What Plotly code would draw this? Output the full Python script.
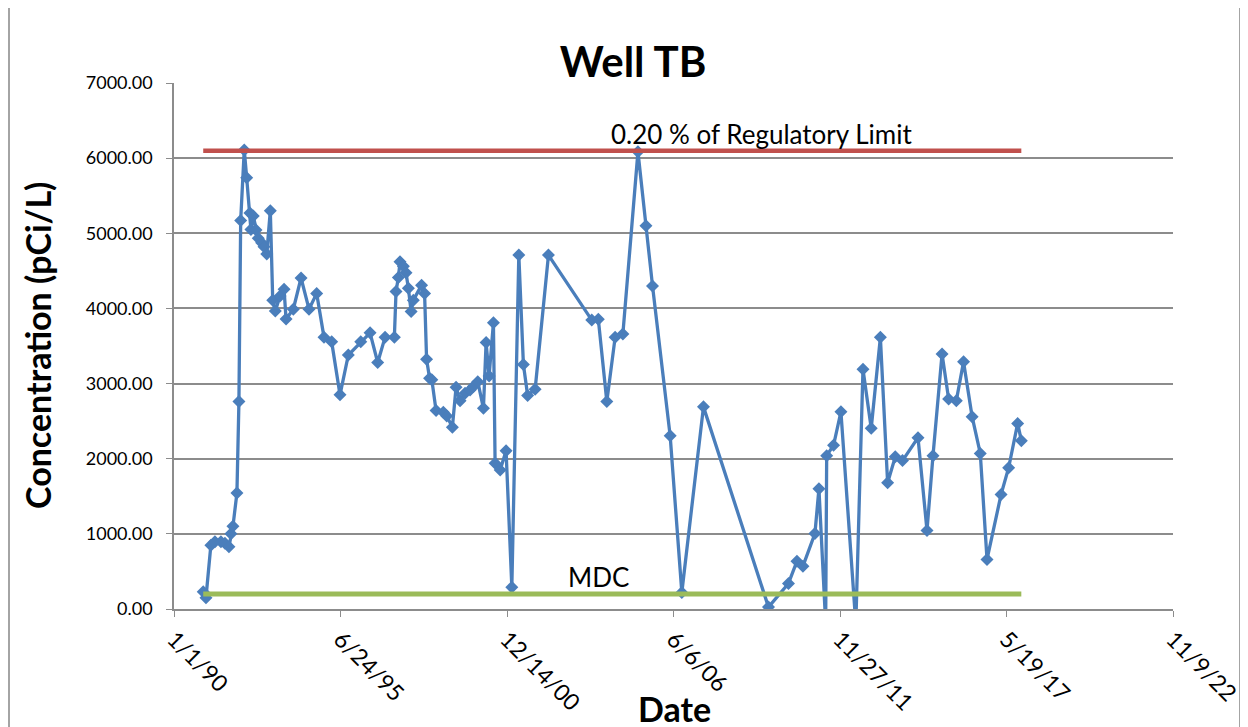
import plotly.graph_objects as go

# Well TB sample results (pCi/L)
sample_dates = [
    "1990-12-18", "1991-01-20", "1991-03-20", "1991-05-08", "1991-07-19", "1991-09-05",
    "1991-10-23", "1991-11-16", "1991-12-10", "1992-01-27", "1992-02-20", "1992-03-12",
    "1992-04-24", "1992-05-23", "1992-07-01", "1992-07-13", "1992-08-10", "1992-09-12",
    "1992-10-09", "1992-11-19", "1992-12-17", "1993-01-19", "1993-03-03", "1993-04-01",
    "1993-05-02", "1993-06-28", "1993-08-15", "1993-09-08", "1993-12-04", "1994-03-07",
    "1994-06-11", "1994-09-11", "1994-12-08", "1995-03-10", "1995-06-18", "1995-09-26",
    "1996-02-22", "1996-06-13", "1996-09-13", "1996-12-10", "1997-04-01", "1997-04-21",
    "1997-05-19", "1997-06-08", "1997-07-18", "1997-08-19", "1997-09-16", "1997-10-19",
    "1997-11-15", "1998-02-22", "1998-03-30", "1998-04-23", "1998-05-29", "1998-06-25",
    "1998-08-15", "1998-11-10", "1998-12-21", "1999-02-27", "1999-04-12", "1999-05-30",
    "1999-07-29", "1999-09-27", "1999-11-06", "1999-12-29", "2000-03-06", "2000-04-07",
    "2000-05-13", "2000-07-04", "2000-07-24", "2000-09-23", "2000-12-03", "2001-02-10",
    "2001-05-05", "2001-06-29", "2001-08-19", "2001-11-17", "2002-04-26", "2003-09-28",
    "2003-12-16", "2004-03-27", "2004-07-05", "2004-10-06", "2005-04-05", "2005-07-10",
    "2005-09-27", "2006-04-27", "2006-09-14", "2007-06-01", "2009-07-21", "2010-03-18",
    "2010-06-28", "2010-09-08", "2011-01-30", "2011-03-19", "2011-06-08", "2011-06-20",
    "2011-09-11", "2011-12-08", "2012-06-04", "2012-08-29", "2012-12-06", "2013-03-26",
    "2013-06-21", "2013-09-21", "2013-12-17", "2014-06-21", "2014-10-07", "2014-12-18",
    "2015-04-06", "2015-06-24", "2015-09-24", "2015-12-20", "2016-04-01", "2016-07-08",
    "2016-09-27", "2017-03-15", "2017-06-14", "2017-09-30", "2017-11-13",
]
concentration = [
    230, 150, 850, 895, 895, 875,
    830, 1000, 1100, 1545, 2760, 5170,
    6110, 5740, 5270, 5050, 5230, 5045,
    4935, 4875, 4820, 4725, 5300, 4110,
    3965, 4165, 4255, 3860, 3990, 4405,
    3990, 4200, 3615, 3555, 2850, 3380,
    3555, 3675, 3280, 3615, 3615, 4225,
    4410, 4620, 4560, 4475, 4270, 3960,
    4110, 4310, 4200, 3325, 3070, 3050,
    2640, 2620, 2570, 2420, 2950, 2770,
    2870, 2915, 2960, 3025, 2670, 3545,
    3100, 3810, 1940, 1850, 2105, 290,
    4710, 3255, 2840, 2925, 4710, 3845,
    3855, 2760, 3615, 3660, 6085, 5100,
    4300, 2305, 220, 2690, 25, 340,
    635, 570, 1005, 1600, -200, 2040,
    2180, 2625, -200, 3190, 2405, 3615,
    1680, 2025, 1975, 2280, 1045, 2040,
    3395, 2795, 2770, 3290, 2560, 2070,
    660, 1525, 1880, 2470, 2240,
]

reg_limit = 6100
mdc = 200

x_tick_dates = ["1990-01-01", "1995-06-24", "2000-12-14", "2006-06-06",
                "2011-11-27", "2017-05-19", "2022-11-09"]
x_tick_labels = ["1/1/90", "6/24/95", "12/14/00", "6/6/06", "11/27/11", "5/19/17", "11/9/22"]

FONT = "Lato, 'Open Sans', sans-serif"
GRID = "#8c8c8c"

fig = go.Figure()

fig.add_trace(go.Scatter(
    x=sample_dates, y=concentration, mode="lines+markers",
    line=dict(color="#4A7EBB", width=3.3),
    marker=dict(symbol="diamond", size=10, color="#4A7EBB"),
    showlegend=False,
))

# limit lines span the sampling period
span = [sample_dates[0], sample_dates[-1]]
fig.add_trace(go.Scatter(
    x=span, y=[reg_limit, reg_limit], mode="lines",
    line=dict(color="#C0504D", width=4.5), showlegend=False,
))
fig.add_trace(go.Scatter(
    x=span, y=[mdc, mdc], mode="lines",
    line=dict(color="#9BBB59", width=5), showlegend=False,
))

fig.add_annotation(x="2009-04-27", y=reg_limit, text="0.20 % of Regulatory Limit",
                   showarrow=False, yanchor="bottom", yshift=-1,
                   font=dict(family=FONT, size=26, color="black"))
fig.add_annotation(x="2003-12-24", y=mdc, text="MDC",
                   showarrow=False, yanchor="bottom", yshift=-1,
                   font=dict(family=FONT, size=26, color="black"))

# axis titles placed by hand to match the Excel layout
fig.add_annotation(x=(37 - 174) / 999, y=0.5, xref="paper", yref="paper",
                   xanchor="center", yanchor="middle",
                   text="<b>Concentration (pCi/L)</b>", textangle=-90, showarrow=False,
                   font=dict(family=FONT, size=34, color="black"))
fig.add_annotation(x=(674 - 174) / 999, y=(609 - 708) / 526, xref="paper", yref="paper",
                   xanchor="center", yanchor="middle",
                   text="<b>Date</b>", showarrow=False,
                   font=dict(family=FONT, size=34, color="black"))

# chart border
fig.add_shape(type="rect", xref="paper", yref="paper",
              x0=(9 - 174) / 999, x1=(1240 - 174) / 999,
              y0=(609 - 740) / 526, y1=(609 - 2) / 526,
              line=dict(color="#868686", width=1.5))

fig.update_xaxes(
    type="date", range=[x_tick_dates[0], x_tick_dates[-1]],
    tickmode="array", tickvals=x_tick_dates, ticktext=x_tick_labels,
    tickangle=45, ticks="outside", ticklen=6, tickcolor=GRID,
    showline=True, linecolor=GRID, linewidth=1.5, showgrid=False, zeroline=False,
    tickfont=dict(family=FONT, size=23, color="black"),
)
fig.update_yaxes(
    range=[0, 7000], dtick=1000, tickformat=".2f",
    ticks="outside", ticklen=6, tickcolor=GRID, ticklabelstandoff=10,
    showline=True, linecolor=GRID, linewidth=1.5,
    showgrid=True, gridcolor=GRID, gridwidth=1.5, zeroline=False,
    tickfont=dict(family=FONT, size=18, color="black"),
)

# page body adds an 8px offset, so margins are shifted to compensate
fig.update_layout(
    width=1248, height=727,
    margin=dict(l=166, r=83, t=75, b=126),
    paper_bgcolor="white", plot_bgcolor="white",
    title=dict(text="<b>Well TB</b>", x=625 / 1248, xanchor="center",
               y=1 - 54 / 727, yanchor="middle",
               font=dict(family=FONT, size=42, color="black")),
)

fig.write_html("out.html")
